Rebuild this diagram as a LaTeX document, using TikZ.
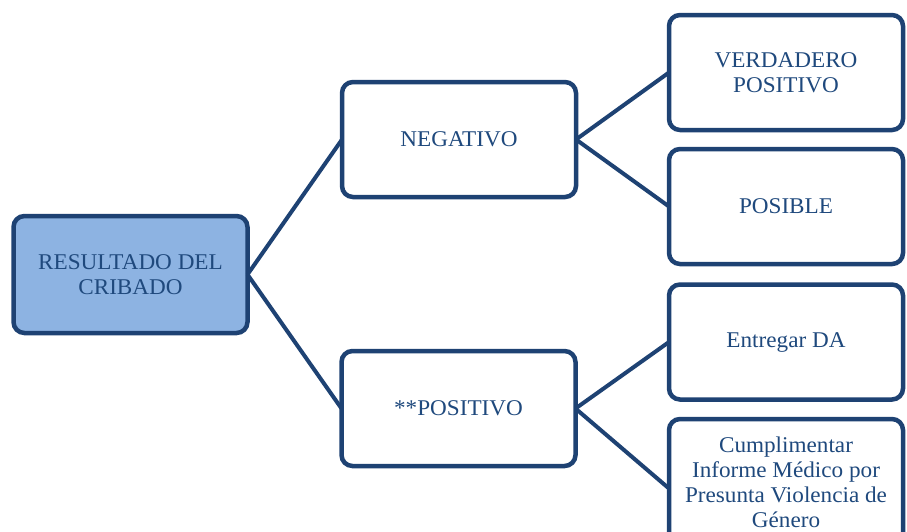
\documentclass[tikz,border=0pt]{standalone}
\usepackage{fontspec}
\setmainfont[FakeStretch=1.03]{Liberation Serif}
\definecolor{boxline}{RGB}{30,66,115}
\definecolor{boxtext}{RGB}{31,73,125}
\definecolor{rootfill}{RGB}{141,179,226}
\tikzset{
  box/.style={draw=boxline, line width=4.5pt, rounded corners=11pt, fill=white,
    minimum width=234pt, minimum height=115pt, inner sep=0pt, outer sep=0pt,
    align=center, text=boxtext, font=\fontsize{22.5}{25}\selectfont},
  rootbox/.style={box, fill=rootfill, minimum height=117pt},
  link/.style={draw=boxline, line width=4pt}
}
\begin{document}
\begin{tikzpicture}[x=1pt,y=-1pt]
\useasboundingbox (0,0) rectangle (907,531);
\clip (0,0) rectangle (907,531);
\node[rootbox] (root) at (130.5,274.5) {RESULTADO DEL\\CRIBADO};
\node[box] (neg) at (459,139.5) {NEGATIVO};
\node[box] (pos) at (458.5,408.5) {**POSITIVO};
\node[box] (vp) at (786,72.5) {VERDADERO\\POSITIVO};
\node[box] (posible) at (786,206.5) {POSIBLE};
\node[box] (da) at (786,342) {Entregar DA};
\node[box, minimum height=127pt] (inf) at (786,482.5) {Cumplimentar\\Informe Médico por\\Presunta Violencia de\\Género};
\draw[link] (root.east) -- (neg.west);
\draw[link] (root.east) -- (pos.west);
\draw[link] (neg.east) -- (vp.west);
\draw[link] (neg.east) -- (posible.west);
\draw[link] (pos.east) -- (da.west);
\draw[link] (pos.east) -- ([yshift=-6pt]inf.west);
\end{tikzpicture}
\end{document}
